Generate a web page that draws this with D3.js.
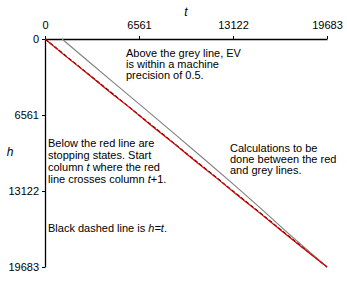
<!DOCTYPE html>
<html><head><meta charset="utf-8">
<script src="https://cdn.jsdelivr.net/npm/d3@7"></script>
<style>body{margin:0;background:#fff}svg{display:block}text{font-family:"Liberation Sans",Arial,sans-serif}</style>
</head><body>
<script>
const ticks = [0, 6561, 13122, 19683];
const xTitle = "t", yTitle = "h";
// red boundary: [t, h]
const redT = [0, 1500, 3000, 4500, 6000, 7500, 9000, 10500, 12000, 13500, 15000, 16500, 18000, 19683];
const redH = [0, 1540, 3020, 4560, 6010, 7550, 9020, 10560, 12030, 13560, 15030, 16560, 18040, 19683];
// grey boundary
const greyT = [1190, 3000, 5000, 7000, 9000, 11000, 13000, 15000, 17000, 19683];
const greyH = [0, 1900, 3980, 6060, 8150, 10250, 12380, 14560, 16800, 19683];
const diagT = [0, 19683], diagH = [0, 19683];
const notes = [
  {x:126, y:57, dy:11, lines:["Above the grey line, EV","is within a machine","precision of 0.5."]},
  {x:48, y:147, dy:12, lines:["Below the red line are","stopping states. Start",["column ","t"," where the red"],["line crosses column ","t","+1."]]},
  {x:230, y:152, dy:11, lines:["Calculations to be","done between the red","and grey lines."]},
  {x:48, y:232, dy:11, lines:[["Black dashed line is ","h=t","."]]}
];

const W=347,H=281;
const svg=d3.select("body").append("svg").attr("width",W).attr("height",H);
const x=d3.scaleLinear().domain([0,19683]).range([45,327]);
const y=d3.scaleLinear().domain([0,19683]).range([39,267]);

const xa=svg.append("g").attr("transform","translate(0,39)")
  .call(d3.axisTop(x).tickValues(ticks).tickFormat(d3.format("d")).tickSize(3).tickSizeOuter(0));
const ya=svg.append("g").attr("transform","translate(45,0)")
  .call(d3.axisLeft(y).tickValues(ticks).tickFormat(d3.format("d")).tickSize(3).tickSizeOuter(0));
[xa,ya].forEach(a=>{a.selectAll("text").attr("font-size",11).attr("font-family","Liberation Sans, Arial, sans-serif").attr("fill","#000");
  a.select(".domain").attr("stroke","#000").attr("stroke-width",1.3);a.selectAll(".tick line").attr("stroke","#000");});
xa.selectAll("text").attr("dy","-0.35em");

svg.append("text").attr("x",186).attr("y",16).attr("font-size",12).attr("font-style","italic").attr("text-anchor","middle").text(xTitle);
svg.append("text").attr("x",10).attr("y",156).attr("font-size",12).attr("font-style","italic").attr("text-anchor","middle").text(yTitle);

const line=d3.line().x(d=>x(d[0])).y(d=>y(d[1]));
svg.append("path").datum(diagT.map((t,i)=>[t,diagH[i]])).attr("d",line).attr("fill","none").attr("stroke","#000").attr("stroke-width",1.2).attr("stroke-dasharray","4,2");
svg.append("path").datum(greyT.map((t,i)=>[t,greyH[i]])).attr("d",line).attr("fill","none").attr("stroke","#808080").attr("stroke-width",1.1);
svg.append("path").datum(redT.map((t,i)=>[t,redH[i]])).attr("d",line).attr("fill","none").attr("stroke","#e00000").attr("stroke-width",1.2);

notes.forEach(n=>{
  n.lines.forEach((ln,i)=>{
    const t=svg.append("text").attr("x",n.x).attr("y",n.y+i*n.dy).attr("font-size",11).attr("fill","#000");
    if(typeof ln==="string"){t.text(ln);}
    else ln.forEach((s,j)=>t.append("tspan").attr("font-style",j===1?"italic":"normal").text(s));
  });
});
</script>
</body></html>
